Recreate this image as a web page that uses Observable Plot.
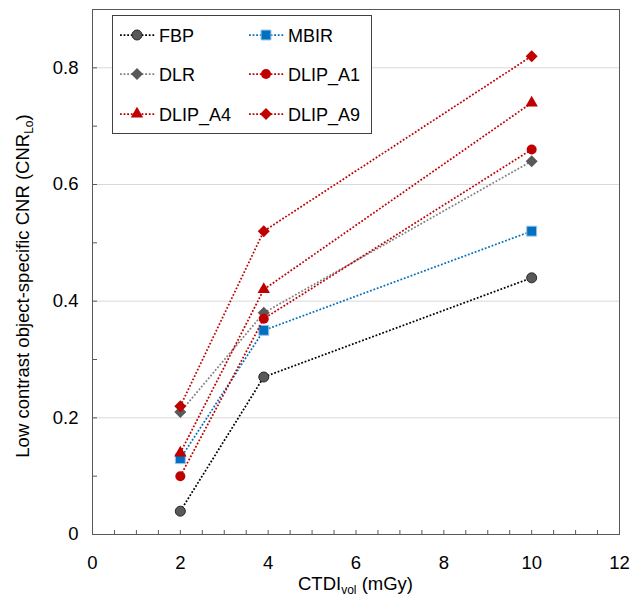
<!DOCTYPE html>
<html><head><meta charset="utf-8">
<script src="https://cdn.jsdelivr.net/npm/d3@7"></script>
<script src="https://cdn.jsdelivr.net/npm/@observablehq/plot@0.6"></script>
<style>body{margin:0;background:#fff;} svg{display:block}</style>
</head><body><div id="chart"></div>
<script>
// ---- data ----
const doses = [2, 3.9, 10];
const seriesNames = ["FBP", "MBIR", "DLR", "DLIP_A1", "DLIP_A4", "DLIP_A9"];
const FBP     = [0.04, 0.27, 0.44];
const MBIR    = [0.13, 0.35, 0.52];
const DLR     = [0.21, 0.38, 0.64];
const DLIP_A1 = [0.10, 0.37, 0.66];
const DLIP_A4 = [0.14, 0.42, 0.74];
const DLIP_A9 = [0.22, 0.52, 0.82];
const seriesValues = [FBP, MBIR, DLR, DLIP_A1, DLIP_A4, DLIP_A9];
const xTickLabels = [0, 2, 4, 6, 8, 10, 12];
const xMinorTicks = [0,0.5,1,1.5,2,2.5,3,3.5,4,4.5,5,5.5,6,6.5,7,7.5,8,8.5,9,9.5,10,10.5,11,11.5,12];
const yTickLabels = [0, 0.2, 0.4, 0.6, 0.8];
const yMinorTicks = [0, 0.1, 0.2, 0.3, 0.4, 0.5, 0.6, 0.7, 0.8, 0.9];
const yGrid = [0.2, 0.4, 0.6, 0.8];

// ---- styles ----
const lineColors   = ["#000000", "#0070C0", "#808080", "#C00000", "#C00000", "#C00000"];
const markerFills  = ["#595959", "#0070C0", "#595959", "#C00000", "#C00000", "#C00000"];
const markerStroke = ["#262626", "#9DC3E6", "none", "none", "none", "none"];
const symbols      = ["circle", "square", "diamond2", "circle", "triangle", "diamond2"];
const radii        = [5, 5.6, 5.4, 5, 4.6, 5.4];
const dash = "1.8,1.8";
const lw = 1.75;
const font = "'Liberation Sans', Arial, sans-serif";

const rows = seriesNames.map((name, i) =>
  doses.map((d, j) => ({series: name, dose: d, value: seriesValues[i][j]})));

const marks = [
  Plot.gridY(yGrid, {stroke: "#d9d9d9", strokeOpacity: 1, strokeWidth: 1}),
  Plot.frame({stroke: "#595959", strokeWidth: 1}),
  Plot.axisX(xMinorTicks, {tickSize: 4, insetBottom: 4, tickFormat: () => "", label: null, stroke: "#595959"}),
  Plot.axisX(xTickLabels, {tickSize: 0, tickPadding: 21, tickFormat: d => String(d), label: null, fontSize: 18.5, fill: "#000"}),
  Plot.axisY(yMinorTicks, {tickSize: 5, insetLeft: 5, tickFormat: () => "", label: null, stroke: "#595959"}),
  Plot.axisY(yTickLabels, {tickSize: 0, tickPadding: 14, tickFormat: d => d === 0 ? "0" : d.toFixed(1), label: null, fontSize: 18.5, fill: "#000"})
];
rows.forEach((r, i) => {
  marks.push(Plot.line(r, {x: "dose", y: "value", stroke: lineColors[i], strokeWidth: lw,
    strokeDasharray: dash, strokeLinecap: "butt", strokeLinejoin: "miter"}));
  marks.push(Plot.dot(r, {x: "dose", y: "value", r: radii[i], symbol: symbols[i], fill: markerFills[i],
    stroke: markerStroke[i], strokeWidth: 1}));
});

const plot = Plot.plot({
  width: 642, height: 598,
  marginLeft: 92, marginRight: 23, marginTop: 9, marginBottom: 64,
  style: {fontFamily: font, background: "#fff", color: "#000", overflow: "visible"},
  x: {domain: [0, 12], axis: null},
  y: {domain: [0, 0.9], axis: null},
  marks
});
document.getElementById("chart").appendChild(plot);

const svg = d3.select(plot);

// ---- titles ----
const xs = plot.scale("x");
const cx = xs.apply(6);
const xt = svg.append("text").attr("x", cx).attr("y", 590).attr("text-anchor", "middle")
  .attr("font-family", font).attr("font-size", 18.5).attr("fill", "#000");
xt.append("tspan").text("CTDI");
xt.append("tspan").attr("font-size", 12).attr("dy", 4).text("vol");
xt.append("tspan").attr("dy", -4).text(" (mGy)");

const yt = svg.append("text").attr("transform", "translate(29,286) rotate(-90)").attr("text-anchor", "middle")
  .attr("font-family", font).attr("font-size", 18.5).attr("fill", "#000");
yt.append("tspan").text("Low contrast object-specific CNR (CNR");
yt.append("tspan").attr("font-size", 12).attr("dy", 4).text("Lo");
yt.append("tspan").attr("dy", -4).text(")");

// ---- legend ----
const lg = svg.append("g");
lg.append("rect").attr("x", 112.5).attr("y", 15.5).attr("width", 259).attr("height", 118)
  .attr("fill", "#fff").attr("stroke", "#404040").attr("stroke-width", 1);
const colX = [120, 249], rowY = [35, 74, 114];
const symMap = {circle: d3.symbolCircle, square: d3.symbolSquare, diamond2: d3.symbolDiamond2, triangle: d3.symbolTriangle};
seriesNames.forEach((name, i) => {
  const x0 = colX[i % 2], y0 = rowY[Math.floor(i / 2)];
  lg.append("line").attr("x1", x0).attr("x2", x0 + 35).attr("y1", y0).attr("y2", y0)
    .attr("stroke", lineColors[i]).attr("stroke-width", lw).attr("stroke-dasharray", dash);
  lg.append("path").attr("transform", `translate(${x0 + 17},${y0})`)
    .attr("d", d3.symbol(symMap[symbols[i]], Math.PI * radii[i] * radii[i])())
    .attr("fill", markerFills[i]).attr("stroke", markerStroke[i]).attr("stroke-width", 1);
  lg.append("text").attr("x", x0 + 39).attr("y", y0 + 6.5).attr("text-anchor", "start")
    .attr("font-family", font).attr("font-size", 18).attr("fill", "#000").text(name);
});
</script></body></html>
